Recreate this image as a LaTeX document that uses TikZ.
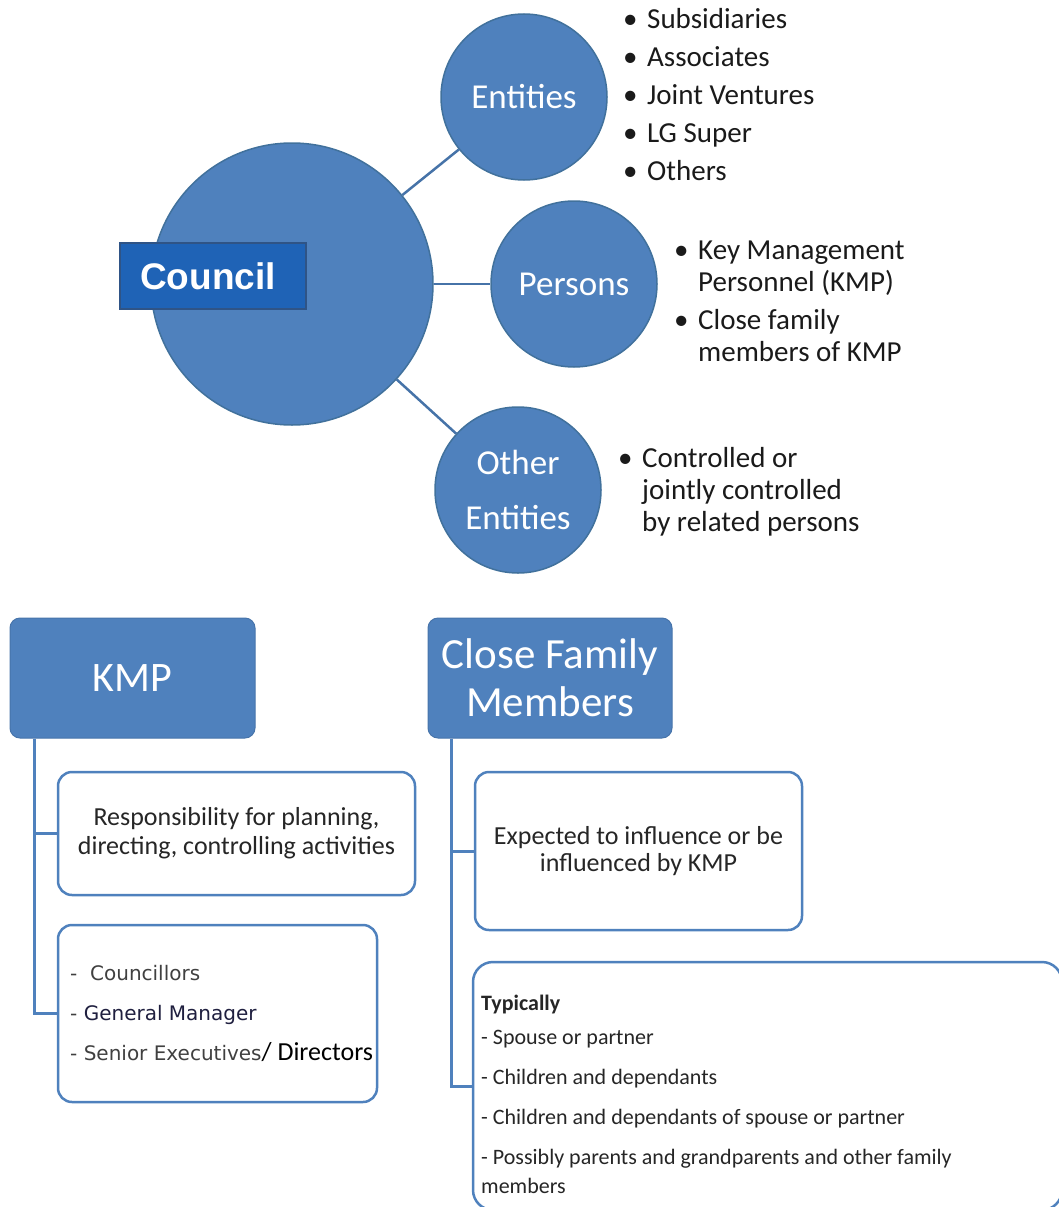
\documentclass[tikz,border=0pt]{standalone}
\usepackage{fontspec}
\setmainfont{Carlito}
\newfontfamily\arialfam{Liberation Sans}
\newfontfamily\verdfam{DejaVu Sans}
\usetikzlibrary{calc}
\definecolor{obl}{HTML}{4F81BD}
\definecolor{obldark}{HTML}{41719C}
\definecolor{connc}{HTML}{4673A8}
\definecolor{councilbox}{HTML}{1F63B6}
\definecolor{councilborder}{HTML}{2F5486}
\definecolor{toptxt}{HTML}{1A1A1A}
\definecolor{bottxt}{HTML}{262626}
\definecolor{greytxt}{HTML}{404040}
\definecolor{gmtxt}{HTML}{1F1F3F}
\newcommand\mybul{\makebox[24pt][l]{•}}
\begin{document}
\begin{tikzpicture}[x=1pt,y=-1pt,
  bigc/.style={circle,fill=obl,draw=obldark,line width=1.5pt,inner sep=0pt,text=white,
    font=\fontsize{35}{55}\selectfont,align=center},
  conn/.style={draw=connc,line width=2.5pt},
  bluebox/.style={rectangle,rounded corners=10pt,fill=obl,draw=obl!90!black,line width=1pt,
    text=white,align=center,inner sep=0pt},
  whitebox/.style={rectangle,rounded corners=14pt,fill=white,draw=obl,line width=2.5pt,inner sep=0pt},
  tree/.style={draw=obl,line width=3pt},
  listtxt/.style={inner sep=0pt,text=toptxt,font=\fontsize{29}{32}\selectfont},
]
\useasboundingbox (0,0) rectangle (1059,1207);
\clip (0,0) rectangle (1059,1207);

% ---- top: council and its circles
\node[bigc,minimum size=282pt] (council) at (292,284) {};
\node[bigc,minimum size=166pt] (entities) at (524,97) {Entities};
\node[bigc,minimum size=166pt] (persons) at (574,284) {Persons};
\node[bigc,minimum size=166pt] (others) at (518,490) {Other\\Entities};
\draw[conn] (council) -- (entities);
\draw[conn] (council) -- (persons);
\draw[conn] (council) -- (others);

\node[rectangle,fill=councilbox,draw=councilborder,line width=1.5pt,minimum width=186pt,
  minimum height=66pt,inner sep=0pt] (councilbox) at (213,276) {};
\node[inner sep=0pt,text=white,font=\arialfam\bfseries\fontsize{37}{40}\selectfont]
  (councillabel) at (208,276) {Council};

\node[listtxt,anchor=base west,font=\fontsize{29}{38}\selectfont] (entlist) at (623,29)
  {\begin{tabular}[t]{@{}l@{}l@{}}
   \mybul & Subsidiaries\\
   \mybul & Associates\\
   \mybul & Joint Ventures\\
   \mybul & LG Super\\
   \mybul & Others
   \end{tabular}};

\node[listtxt,anchor=base west] (perlist) at (674,259)
  {\begin{tabular}[t]{@{}l@{}l@{}}
   \mybul & Key Management\\
          & Personnel (KMP)\\[6pt]
   \mybul & Close family\\
          & members of KMP
   \end{tabular}};

\node[listtxt,anchor=base west] (othlist) at (618,467)
  {\begin{tabular}[t]{@{}l@{}l@{}}
   \mybul & Controlled or\\
          & jointly controlled\\
          & by related persons
   \end{tabular}};

% ---- bottom left: KMP
\node[bluebox,minimum width=245pt,minimum height=120pt,font=\fontsize{42}{48}\selectfont]
  (kmp) at (132.5,678) {KMP};
\node[whitebox,minimum width=357pt,minimum height=123pt,text=bottxt,align=center,
  font=\fontsize{26}{29}\selectfont] (resp) at (236.5,833.5)
  {Responsibility for planning,\\directing, controlling activities};
\node[whitebox,minimum width=319pt,minimum height=177pt] (kmplist) at (217.5,1013.5) {};
\node[anchor=base west,inner sep=0pt,font=\verdfam\fontsize{20}{40}\selectfont] (kmptext) at (70,980)
  {\begin{tabular}[t]{@{}l@{}}
   \color{greytxt}-\ \ Councillors\\
   \color{greytxt}- \color{gmtxt}General Manager\\
   \color{greytxt}- Senior Executives{\rmfamily\fontsize{26}{30}\selectfont\color{black}/ Directors}
   \end{tabular}};
\coordinate (kmptrunk) at ($(kmp.south west)+(25,0)$);
\draw[tree] (kmptrunk) |- (kmplist.west);
\draw[tree] (kmptrunk |- resp.west) -- (resp.west);

% ---- bottom right: close family members
\node[bluebox,minimum width=244pt,minimum height=120pt,font=\fontsize{43}{48}\selectfont]
  (cfm) at (550,678) {Close Family\\Members};
\node[whitebox,minimum width=327pt,minimum height=158pt,text=bottxt,align=center,
  font=\fontsize{26}{27}\selectfont] (expected) at (638.5,851)
  {Expected to influence or be\\influenced by KMP};
\node[whitebox,rounded corners=20pt,minimum width=589pt,minimum height=248pt] (typical) at (767.5,1086) {};
\node[anchor=base west,inner sep=0pt,text=bottxt,font=\fontsize{22}{29}\selectfont] (typtext) at (481,1010)
  {\begin{tabular}[t]{@{}l@{}}
   \textbf{Typically}\\[5pt]
   - Spouse or partner\\[11pt]
   - Children and dependants\\[11pt]
   - Children and dependants of spouse or partner\\[11pt]
   - Possibly parents and grandparents and other family\\
   members
   \end{tabular}};
\coordinate (cfmtrunk) at ($(cfm.south west)+(24,0)$);
\draw[tree] (cfmtrunk) |- (typical.west);
\draw[tree] (cfmtrunk |- expected.west) -- (expected.west);
\end{tikzpicture}
\end{document}
